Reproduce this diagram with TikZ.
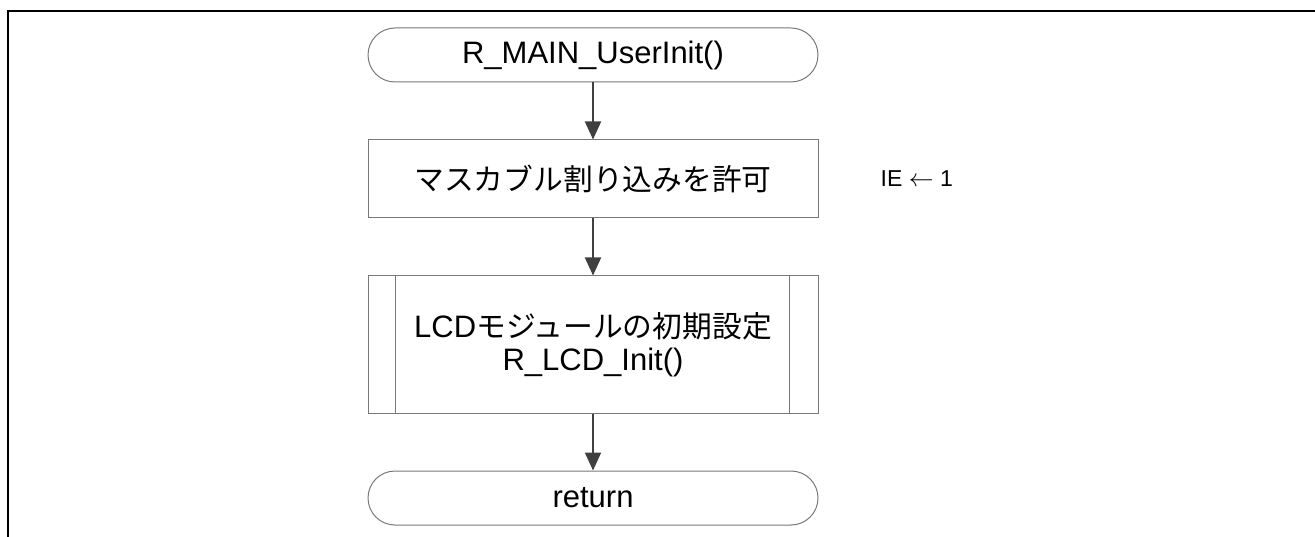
\documentclass[tikz,border=0pt]{standalone}
\usepackage{fontspec}
\setmainfont{Liberation Sans}
\newfontfamily\jpfont{Noto Sans CJK JP}[Scale=0.96]
\usetikzlibrary{arrows.meta,positioning,calc}
\definecolor{boxgray}{RGB}{120,120,120}
\definecolor{arrowgray}{RGB}{64,64,64}

\begin{document}
\begin{tikzpicture}[x=1pt, y=-1pt, >={Triangle[width=16pt,length=18pt]}, node distance=57pt]
\tikzstyle{every node}=[font=\fontsize{31}{33}\selectfont]
\tikzstyle{terminal}=[draw=boxgray, line width=1pt, minimum width=450pt, minimum height=54pt, rounded corners=27pt]
\tikzstyle{proc}=[draw=boxgray, line width=1pt, minimum width=450pt, minimum height=78pt]
\tikzstyle{subproc}=[proc, minimum height=137pt, align=center]
\tikzstyle{flow}=[->, draw=arrowgray, line width=2pt]
\useasboundingbox (0,0) rectangle (1315,537);
% frame
\draw[line width=2.5pt] (8,537) -- (8,11) -- (1315,11);
\node[terminal] (start)              at (593,55) {R\_MAIN\_UserInit()};
\node[proc]     (mask)   [below=of start] {\jpfont マスカブル割り込みを許可};
\node[subproc]  (lcd)    [below=of mask]  {LCD{\jpfont モジュールの初期設定}\\R\_LCD\_Init()};
\node[terminal] (ret)    [below=of lcd]   {return};
\node[inner sep=0pt, font=\fontsize{23}{26}\selectfont] (ie) [right=62pt of mask] {IE $\leftarrow$ 1};
% side bars of the sub-process
\draw[boxgray, line width=1pt] ([xshift=28pt]lcd.north west) -- ([xshift=28pt]lcd.south west)
                               ([xshift=-29pt]lcd.north east) -- ([xshift=-29pt]lcd.south east);
\path
(start) edge[flow] (mask)
(mask)  edge[flow] (lcd)
(lcd)   edge[flow] (ret);
\end{tikzpicture}
\end{document}
